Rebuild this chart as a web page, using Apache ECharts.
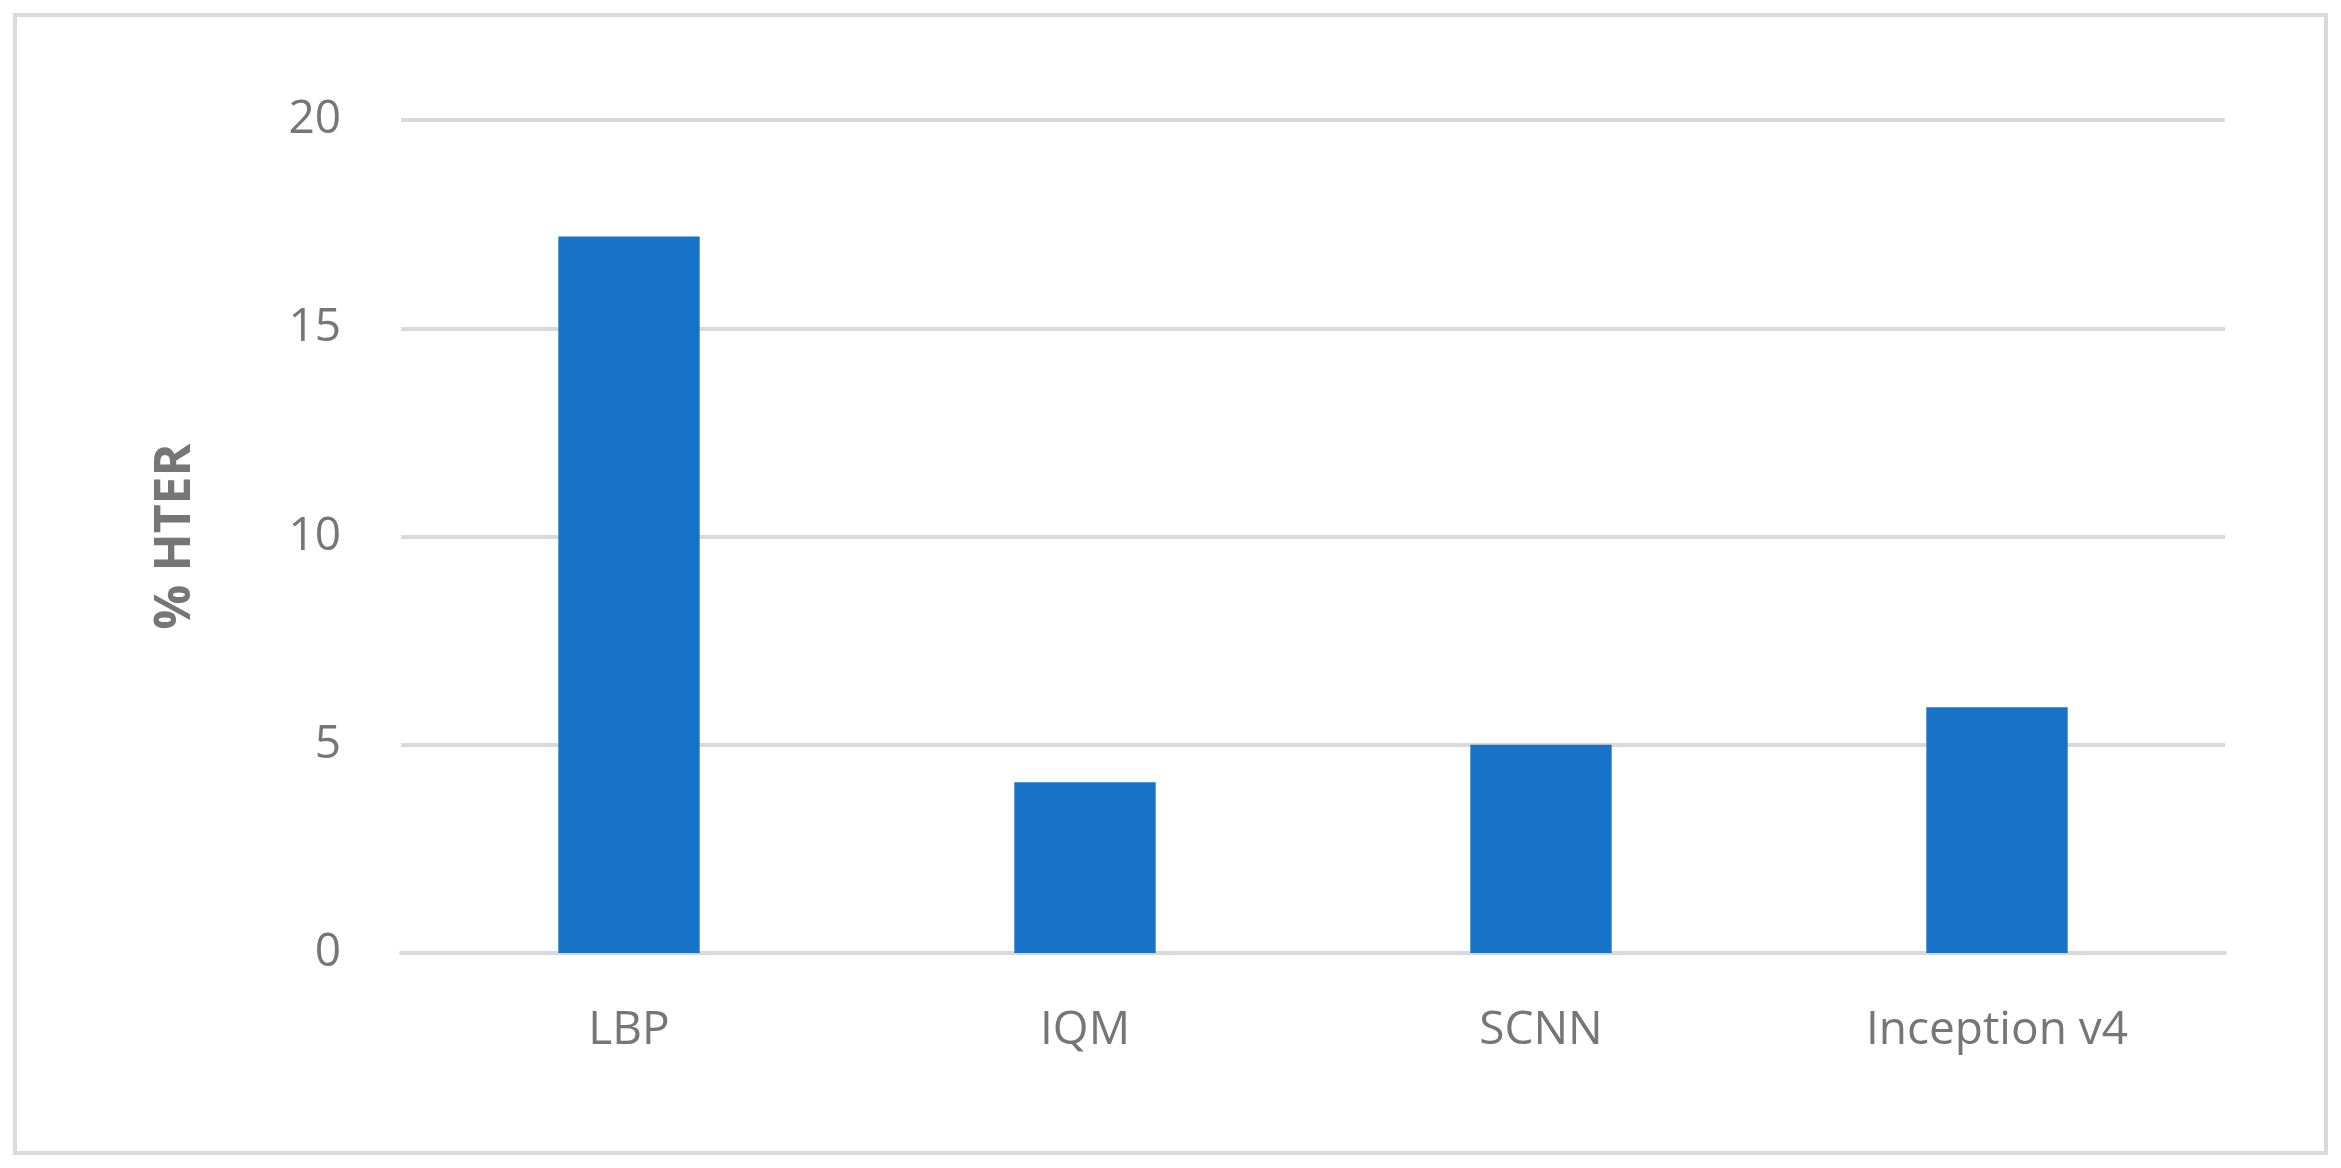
<!DOCTYPE html>
<html>
<head>
<meta charset="utf-8">
<script src="https://cdn.jsdelivr.net/npm/echarts@6/dist/echarts.min.js"></script>
<style>
  html, body { margin: 0; padding: 0; background: #fff; }
  #chart { width: 2341px; height: 1168px; }
</style>
</head>
<body>
<div id="chart"></div>
<script>
const categories = ['LBP', 'IQM', 'SCNN', 'Inception v4'];
const hterValues = [17.2, 4.1, 5.0, 5.9];

const chart = echarts.init(document.getElementById('chart'));
chart.setOption({
  animation: false,
  graphic: [{
    type: 'rect',
    shape: { x: 15, y: 15, width: 2311, height: 1138 },
    style: { fill: 'none', stroke: '#d9d9d9', lineWidth: 4 }
  }],
  grid: { left: 401, right: 116, top: 120, bottom: 215 },
  xAxis: {
    type: 'category',
    data: categories,
    axisLine: { lineStyle: { color: '#d9d9d9', width: 4 } },
    axisTick: { show: false },
    axisLabel: { color: '#767676', fontSize: 46, fontFamily: 'Open Sans', margin: 55 }
  },
  yAxis: {
    type: 'value',
    min: 0,
    max: 20,
    interval: 5,
    name: '% HTER',
    nameLocation: 'middle',
    nameGap: 200,
    nameTextStyle: { color: '#767676', fontSize: 50, fontWeight: 'bold', fontFamily: 'Open Sans' },
    axisLine: { show: false },
    axisTick: { show: false },
    axisLabel: { color: '#767676', fontSize: 46, fontFamily: 'Open Sans', margin: 60 },
    splitLine: { lineStyle: { color: '#d9d9d9', width: 4 } }
  },
  series: [{
    type: 'bar',
    data: hterValues,
    barWidth: '31%',
    itemStyle: { color: '#1872c8' }
  }]
});
</script>
</body>
</html>
